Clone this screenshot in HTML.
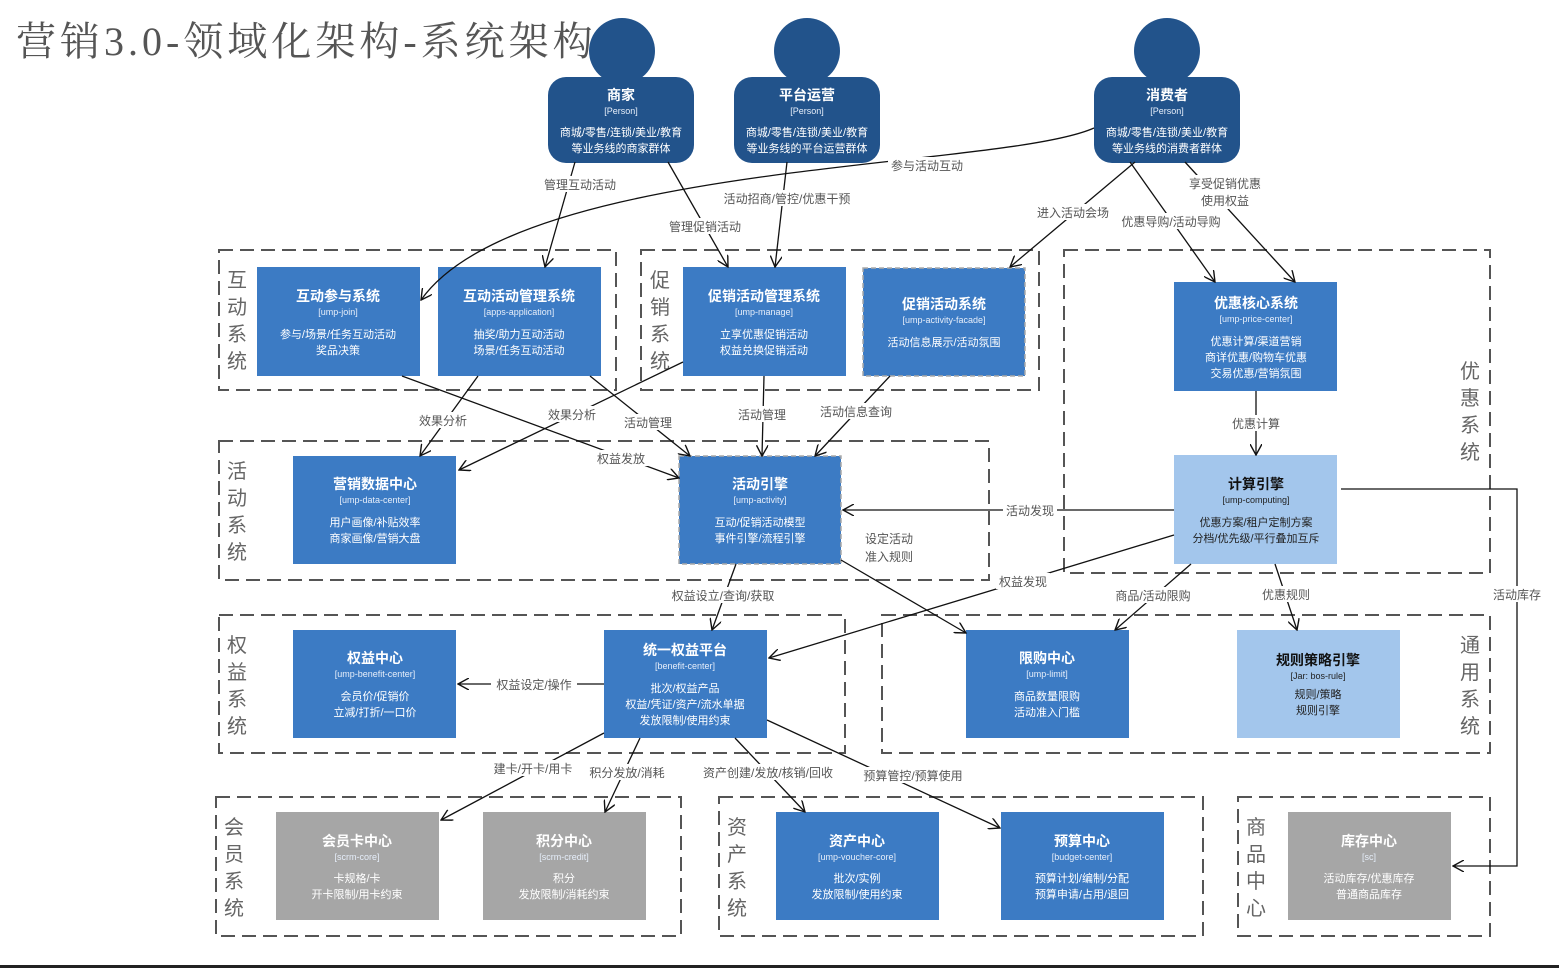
<!DOCTYPE html>
<html><head><meta charset="utf-8"><style>
html,body{margin:0;padding:0;background:#fff;}
svg{display:block;}
text{font-family:"Liberation Sans","Noto Sans CJK SC",sans-serif;}
.t{fill:#fff;font-size:14px;font-weight:bold;text-anchor:middle;}
.k{fill:#e6eefa;font-size:9px;text-anchor:middle;}
.d{fill:#fff;font-size:11px;text-anchor:middle;}
.tl .t{fill:#111}.tl .k,.tl .d{fill:#222}
.g{fill:none;stroke:#555;stroke-width:2;stroke-dasharray:14 7;}
.gl{fill:#666;font-size:20px;text-anchor:middle;}
.e{fill:none;stroke:#111;stroke-width:1.3;marker-end:url(#a);}
.l{fill:#555;font-size:12px;text-anchor:middle;}
.lb{fill:#fff;}
</style></head><body>
<svg width="1559" height="968" viewBox="0 0 1559 968" xmlns="http://www.w3.org/2000/svg">
<defs><marker id="a" viewBox="0 0 12 12" refX="11" refY="6" markerWidth="12" markerHeight="12" markerUnits="userSpaceOnUse" orient="auto"><path d="M0,0 L11,6 L0,12" fill="none" stroke="#111" stroke-width="1.4"/></marker></defs>
<rect x="0" y="965" width="1559" height="3" fill="#222"/>
<text x="16" y="55" style="font-family:'Liberation Serif','Noto Serif CJK SC',serif;font-size:40px;fill:#555;letter-spacing:4px">营销3.0-领域化架构-系统架构</text>

<!-- groups -->
<rect class="g" x="219" y="250" width="397" height="140"/>
<rect class="g" x="641" y="250" width="398" height="140"/>
<rect class="g" x="1064" y="250" width="426" height="323"/>
<rect class="g" x="219" y="441" width="770" height="139"/>
<rect class="g" x="219" y="615" width="626" height="138"/>
<rect class="g" x="882" y="615" width="608" height="138"/>
<rect class="g" x="216" y="797" width="465" height="139"/>
<rect class="g" x="719" y="797" width="484" height="139"/>
<rect class="g" x="1238" y="797" width="252" height="139"/>
<g class="gl">
<text x="237" y="287">互</text><text x="237" y="314">动</text><text x="237" y="341">系</text><text x="237" y="368">统</text>
<text x="660" y="287">促</text><text x="660" y="314">销</text><text x="660" y="341">系</text><text x="660" y="368">统</text>
<text x="1470" y="378">优</text><text x="1470" y="405">惠</text><text x="1470" y="432">系</text><text x="1470" y="459">统</text>
<text x="237" y="478">活</text><text x="237" y="505">动</text><text x="237" y="532">系</text><text x="237" y="559">统</text>
<text x="237" y="652">权</text><text x="237" y="679">益</text><text x="237" y="706">系</text><text x="237" y="733">统</text>
<text x="1470" y="652">通</text><text x="1470" y="679">用</text><text x="1470" y="706">系</text><text x="1470" y="733">统</text>
<text x="234" y="834">会</text><text x="234" y="861">员</text><text x="234" y="888">系</text><text x="234" y="915">统</text>
<text x="737" y="834">资</text><text x="737" y="861">产</text><text x="737" y="888">系</text><text x="737" y="915">统</text>
<text x="1256" y="834">商</text><text x="1256" y="861">品</text><text x="1256" y="888">中</text><text x="1256" y="915">心</text>
</g>

<!-- persons -->
<g fill="#22538b">
<ellipse cx="622" cy="51" rx="33" ry="33"/><rect x="548" y="77" width="146" height="86" rx="18"/>
<ellipse cx="807" cy="51" rx="33" ry="33"/><rect x="734" y="77" width="146" height="86" rx="18"/>
<ellipse cx="1167" cy="51" rx="33" ry="33"/><rect x="1094" y="77" width="146" height="86" rx="18"/>
</g>
<text class="t" x="621" y="100">商家</text><text class="k" x="621" y="114">[Person]</text><text class="d" x="621" y="136">商城/零售/连锁/美业/教育</text><text class="d" x="621" y="152">等业务线的商家群体</text>
<text class="t" x="807" y="100">平台运营</text><text class="k" x="807" y="114">[Person]</text><text class="d" x="807" y="136">商城/零售/连锁/美业/教育</text><text class="d" x="807" y="152">等业务线的平台运营群体</text>
<text class="t" x="1167" y="100">消费者</text><text class="k" x="1167" y="114">[Person]</text><text class="d" x="1167" y="136">商城/零售/连锁/美业/教育</text><text class="d" x="1167" y="152">等业务线的消费者群体</text>

<!-- nodes -->
<g>
<rect x="257" y="267" width="163" height="109" fill="#3c7bc4"/>
<text class="t" x="338" y="301">互动参与系统</text><text class="k" x="338" y="315">[ump-join]</text><text class="d" x="338" y="338">参与/场景/任务互动活动</text><text class="d" x="338" y="354">奖品决策</text>
<rect x="438" y="267" width="163" height="109" fill="#3c7bc4"/>
<text class="t" x="519" y="301">互动活动管理系统</text><text class="k" x="519" y="315">[apps-application]</text><text class="d" x="519" y="338">抽奖/助力互动活动</text><text class="d" x="519" y="354">场景/任务互动活动</text>
<rect x="683" y="267" width="163" height="109" fill="#3c7bc4"/>
<text class="t" x="764" y="301">促销活动管理系统</text><text class="k" x="764" y="315">[ump-manage]</text><text class="d" x="764" y="338">立享优惠促销活动</text><text class="d" x="764" y="354">权益兑换促销活动</text>
<rect x="863" y="268" width="162" height="108" fill="#3c7bc4" stroke="#aaa" stroke-width="1.5" stroke-dasharray="5 3"/>
<text class="t" x="944" y="309">促销活动系统</text><text class="k" x="944" y="323">[ump-activity-facade]</text><text class="d" x="944" y="346">活动信息展示/活动氛围</text>
<rect x="1174" y="282" width="163" height="109" fill="#3c7bc4"/>
<text class="t" x="1256" y="308">优惠核心系统</text><text class="k" x="1256" y="322">[ump-price-center]</text><text class="d" x="1256" y="345">优惠计算/渠道营销</text><text class="d" x="1256" y="361">商详优惠/购物车优惠</text><text class="d" x="1256" y="377">交易优惠/营销氛围</text>
<rect x="293" y="456" width="163" height="108" fill="#3c7bc4"/>
<text class="t" x="375" y="489">营销数据中心</text><text class="k" x="375" y="503">[ump-data-center]</text><text class="d" x="375" y="526">用户画像/补贴效率</text><text class="d" x="375" y="542">商家画像/营销大盘</text>
<rect x="679" y="456" width="162" height="108" fill="#3c7bc4" stroke="#aaa" stroke-width="1.5" stroke-dasharray="5 3"/>
<text class="t" x="760" y="489">活动引擎</text><text class="k" x="760" y="503">[ump-activity]</text><text class="d" x="760" y="526">互动/促销活动模型</text><text class="d" x="760" y="542">事件引擎/流程引擎</text>
<g class="tl"><rect x="1174" y="455" width="163" height="109" fill="#a3c6ec"/>
<text class="t" x="1256" y="489">计算引擎</text><text class="k" x="1256" y="503">[ump-computing]</text><text class="d" x="1256" y="526">优惠方案/租户定制方案</text><text class="d" x="1256" y="542">分档/优先级/平行叠加互斥</text></g>
<rect x="293" y="630" width="163" height="108" fill="#3c7bc4"/>
<text class="t" x="375" y="663">权益中心</text><text class="k" x="375" y="677">[ump-benefit-center]</text><text class="d" x="375" y="700">会员价/促销价</text><text class="d" x="375" y="716">立减/打折/一口价</text>
<rect x="604" y="630" width="163" height="108" fill="#3c7bc4"/>
<text class="t" x="685" y="655">统一权益平台</text><text class="k" x="685" y="669">[benefit-center]</text><text class="d" x="685" y="692">批次/权益产品</text><text class="d" x="685" y="708">权益/凭证/资产/流水单据</text><text class="d" x="685" y="724">发放限制/使用约束</text>
<rect x="966" y="630" width="163" height="108" fill="#3c7bc4"/>
<text class="t" x="1047" y="663">限购中心</text><text class="k" x="1047" y="677">[ump-limit]</text><text class="d" x="1047" y="700">商品数量限购</text><text class="d" x="1047" y="716">活动准入门槛</text>
<g class="tl"><rect x="1237" y="630" width="163" height="108" fill="#a3c6ec"/>
<text class="t" x="1318" y="665">规则策略引擎</text><text class="k" x="1318" y="679">[Jar: bos-rule]</text><text class="d" x="1318" y="698">规则/策略</text><text class="d" x="1318" y="714">规则引擎</text></g>
<rect x="276" y="812" width="163" height="108" fill="#a6a6a6"/>
<text class="t" x="357" y="846">会员卡中心</text><text class="k" x="357" y="860">[scrm-core]</text><text class="d" x="357" y="882">卡规格/卡</text><text class="d" x="357" y="898">开卡限制/用卡约束</text>
<rect x="483" y="812" width="163" height="108" fill="#a6a6a6"/>
<text class="t" x="564" y="846">积分中心</text><text class="k" x="564" y="860">[scrm-credit]</text><text class="d" x="564" y="882">积分</text><text class="d" x="564" y="898">发放限制/消耗约束</text>
<rect x="776" y="812" width="163" height="108" fill="#3c7bc4"/>
<text class="t" x="857" y="846">资产中心</text><text class="k" x="857" y="860">[ump-voucher-core]</text><text class="d" x="857" y="882">批次/实例</text><text class="d" x="857" y="898">发放限制/使用约束</text>
<rect x="1001" y="812" width="163" height="108" fill="#3c7bc4"/>
<text class="t" x="1082" y="846">预算中心</text><text class="k" x="1082" y="860">[budget-center]</text><text class="d" x="1082" y="882">预算计划/编制/分配</text><text class="d" x="1082" y="898">预算申请/占用/退回</text>
<rect x="1288" y="812" width="163" height="108" fill="#a6a6a6"/>
<text class="t" x="1369" y="846">库存中心</text><text class="k" x="1369" y="860">[sc]</text><text class="d" x="1369" y="882">活动库存/优惠库存</text><text class="d" x="1369" y="898">普通商品库存</text>
</g>

<!-- edges -->
<path class="e" d="M575,162 L545,267"/>
<path class="e" d="M668,162 L728,267"/>
<path class="e" d="M787,162 L775,267"/>
<path class="e" d="M1094,128 C1000,170 520,160 421,300"/>
<path class="e" d="M1135,162 L1010,267"/>
<path class="e" d="M1130,162 L1215,282"/>
<path class="e" d="M1185,162 L1295,282"/>
<path class="e" d="M402,376 L679,478"/>
<path class="e" d="M478,376 L420,456"/>
<path class="e" d="M683,362 L459,470"/>
<path class="e" d="M590,376 L690,456"/>
<path class="e" d="M764,376 L762,456"/>
<path class="e" d="M890,376 L815,456"/>
<path class="e" d="M1256,391 L1256,455"/>
<path class="e" d="M1174,510 L843,510"/>
<path class="e" d="M841,560 L966,633"/>
<path class="e" d="M1174,535 L769,658"/>
<path class="e" d="M736,564 L712,630"/>
<path class="e" d="M1191,564 L1115,630"/>
<path class="e" d="M1275,564 L1297,630"/>
<path class="e" d="M1341,489 L1517,489 L1517,866 L1453,866"/>
<path class="e" d="M604,684 L458,684"/>
<path class="e" d="M604,733 L441,820"/>
<path class="e" d="M640,738 L605,812"/>
<path class="e" d="M735,738 L805,812"/>
<path class="e" d="M767,720 L1000,828"/>

<!-- labels -->
<g>
<rect class="lb" x="541" y="176" width="78" height="16"/><text class="l" x="580" y="189">管理互动活动</text>
<rect class="lb" x="666" y="218" width="78" height="16"/><text class="l" x="705" y="231">管理促销活动</text>
<rect class="lb" x="716" y="190" width="142" height="16"/><text class="l" x="787" y="203">活动招商/管控/优惠干预</text>
<rect class="lb" x="888" y="157" width="78" height="16"/><text class="l" x="927" y="170">参与活动互动</text>
<rect class="lb" x="1034" y="204" width="78" height="16"/><text class="l" x="1073" y="217">进入活动会场</text>
<rect class="lb" x="1117" y="213" width="108" height="16"/><text class="l" x="1171" y="226">优惠导购/活动导购</text>
<rect class="lb" x="1186" y="175" width="78" height="34"/><text class="l" x="1225" y="188">享受促销优惠</text><text class="l" x="1225" y="205">使用权益</text>
<rect class="lb" x="416" y="412" width="54" height="16"/><text class="l" x="443" y="425">效果分析</text>
<rect class="lb" x="545" y="406" width="54" height="16"/><text class="l" x="572" y="419">效果分析</text>
<rect class="lb" x="621" y="414" width="54" height="16"/><text class="l" x="648" y="427">活动管理</text>
<rect class="lb" x="735" y="406" width="54" height="16"/><text class="l" x="762" y="419">活动管理</text>
<rect class="lb" x="817" y="403" width="78" height="16"/><text class="l" x="856" y="416">活动信息查询</text>
<rect class="lb" x="594" y="450" width="54" height="16"/><text class="l" x="621" y="463">权益发放</text>
<rect class="lb" x="1229" y="415" width="54" height="16"/><text class="l" x="1256" y="428">优惠计算</text>
<rect class="lb" x="1003" y="502" width="54" height="16"/><text class="l" x="1030" y="515">活动发现</text>
<text class="l" x="889" y="543">设定活动</text><text class="l" x="889" y="561">准入规则</text>
<rect class="lb" x="996" y="573" width="54" height="16"/><text class="l" x="1023" y="586">权益发现</text>
<rect class="lb" x="665" y="587" width="116" height="16"/><text class="l" x="723" y="600">权益设立/查询/获取</text>
<rect class="lb" x="1111" y="587" width="84" height="16"/><text class="l" x="1153" y="600">商品/活动限购</text>
<rect class="lb" x="1259" y="586" width="54" height="16"/><text class="l" x="1286" y="599">优惠规则</text>
<rect class="lb" x="1490" y="586" width="54" height="16"/><text class="l" x="1517" y="599">活动库存</text>
<rect class="lb" x="491" y="676" width="86" height="16"/><text class="l" x="534" y="689">权益设定/操作</text>
<rect class="lb" x="488" y="760" width="90" height="16"/><text class="l" x="533" y="773">建卡/开卡/用卡</text>
<rect class="lb" x="585" y="764" width="84" height="16"/><text class="l" x="627" y="777">积分发放/消耗</text>
<rect class="lb" x="694" y="764" width="148" height="16"/><text class="l" x="768" y="777">资产创建/发放/核销/回收</text>
<rect class="lb" x="859" y="767" width="108" height="16"/><text class="l" x="913" y="780">预算管控/预算使用</text>
</g>
</svg>
</body></html>
